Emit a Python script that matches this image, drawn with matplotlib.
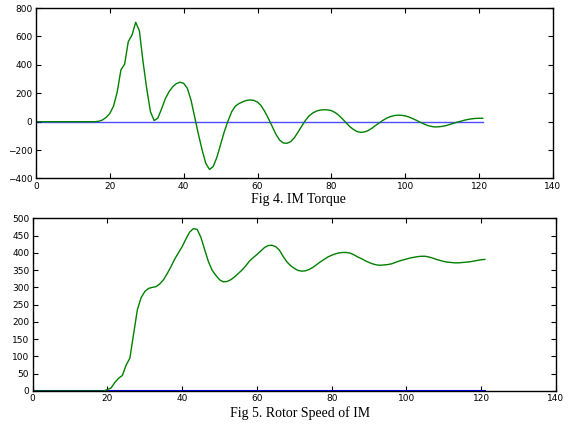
import numpy as np
import matplotlib
matplotlib.use("Agg")
import matplotlib.pyplot as plt

# tiempo (s), un punto por segundo
t = np.arange(0, 122)

# Fig 4: par del motor de induccion
torque = [0] * 17 + [
    3, 12, 30, 58, 110, 210, 365, 405, 565, 610,
    700, 640, 420, 230, 70, 8, 25, 90, 160, 210,
    245, 268, 278, 270, 235, 150, 30, -90, -200, -295,
    -336, -315, -250, -160, -70, 5, 70, 110, 128, 140,
    150, 153, 150, 138, 112, 70, 20, -35, -90, -130,
    -150, -152, -140, -112, -72, -30, 10, 42, 62, 75,
    82, 84, 83, 78, 65, 45, 20, -8, -35, -55,
    -70, -75, -72, -62, -46, -26, -8, 10, 25, 36,
    43, 46, 45, 41, 33, 22, 10, -3, -15, -26,
    -33, -37, -36, -33, -28, -20, -12, -4, 3, 10,
    16, 20, 23, 24, 24,
]
torque_ref = [0] * len(t)

# Fig 5: velocidad del rotor
speed = [0] * 20 + [
    4, 9, 25, 37, 45, 75, 95, 165, 235, 270,
    288, 297, 300, 302, 310, 322, 340, 360, 382, 400,
    418, 440, 460, 470, 468, 445, 410, 375, 350, 335,
    322, 316, 317, 322, 330, 340, 350, 362, 376, 386,
    395, 405, 415, 421, 422, 418, 408, 390, 374, 363,
    355, 349, 347, 348, 352, 358, 366, 374, 381, 388,
    393, 397, 400, 401, 401, 399, 394, 388, 383, 377,
    372, 368, 365, 364, 365, 366, 368, 372, 376, 379,
    382, 385, 387, 389, 390, 390, 388, 385, 381, 378,
    375, 373, 372, 371, 371, 372, 373, 374, 376, 378,
    380, 381,
]
speed_ref = [0] * len(t)

xticks = list(range(0, 141, 20))
yticks_torque = list(range(-400, 801, 200))
yticks_speed = list(range(0, 501, 50))

verde = "#008000"
azul = "#0000ff"

fig = plt.figure(figsize=(5.68, 4.26), dpi=100)
ax1 = fig.add_axes([0.0634, 0.581, 0.910, 0.400])
ax2 = fig.add_axes([0.0576, 0.0822, 0.921, 0.4054])


def estilo(ax, yticks):
    ax.set_xlim(0, 140)
    ax.set_ylim(yticks[0], yticks[-1])
    ax.set_xticks(xticks)
    ax.set_yticks(yticks)
    ax.tick_params(direction="in", top=True, right=True, length=3.5,
                   width=0.8, labelsize=6.5, pad=2.5)
    for s in ax.spines.values():
        s.set_linewidth(1.0)


ax1.plot(t, torque_ref, color=azul, lw=1.0, alpha=0.7)
ax1.plot(t, torque, color=verde, lw=1.0)
estilo(ax1, yticks_torque)

ax2.plot(t, speed_ref, color=azul, lw=1.5)
ax2.plot(t, speed, color=verde, lw=1.0)
estilo(ax2, yticks_speed)

fig.text(0.525, 0.532, "Fig 4. IM Torque", ha="center", va="center",
         family="Liberation Serif", fontsize=10)
fig.text(0.528, 0.030, "Fig 5. Rotor Speed of IM", ha="center", va="center",
         family="Liberation Serif", fontsize=10)

fig.savefig("out.png", dpi=100)
